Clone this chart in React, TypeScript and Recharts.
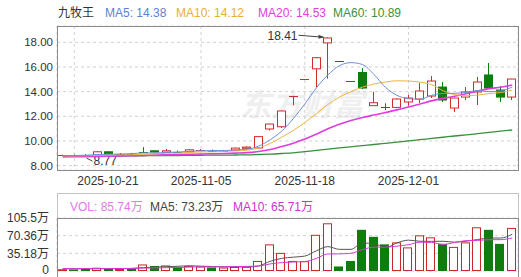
import React from 'react';
import { ComposedChart, Bar, Line, XAxis, YAxis, CartesianGrid } from 'recharts';

const dates = [
  '2025-10-20', '2025-10-21', '2025-10-22', '2025-10-23', '2025-10-24', '2025-10-27', '2025-10-28', '2025-10-29', '2025-10-30', '2025-10-31',
  '2025-11-03', '2025-11-04', '2025-11-05', '2025-11-06', '2025-11-07', '2025-11-10', '2025-11-11', '2025-11-12', '2025-11-13', '2025-11-14',
  '2025-11-17', '2025-11-18', '2025-11-19', '2025-11-20', '2025-11-21', '2025-11-24', '2025-11-25', '2025-11-26', '2025-11-27', '2025-11-28',
  '2025-12-01', '2025-12-02', '2025-12-03', '2025-12-04', '2025-12-05', '2025-12-08', '2025-12-09', '2025-12-10', '2025-12-11', '2025-12-12',
];
const tickDates = ['2025-10-21', '2025-11-05', '2025-11-18', '2025-12-01'];
const priceTicks = [8, 10, 12, 14, 16, 18];
const volTicks = [0, 35.18, 70.36, 105.5];

const openP = [8.80, 8.86, 8.85, 8.85, 9.12, 8.95, 8.98, 9.15, 9.20, 9.08, 9.20, 9.12, 9.22, 9.22, 9.20, 9.25, 9.40, 9.43, 10.97, 11.15,
  13.67, 15.04, 15.85, 17.95, 16.52, 14.87, 15.55, 12.86, 12.82, 12.72, 13.16, 13.40, 13.64, 14.37, 12.67, 13.56, 13.97, 15.35, 14.13, 13.56];
const closeP = [8.86, 8.84, 8.83, 9.12, 8.95, 8.98, 8.97, 9.12, 9.10, 9.20, 9.12, 9.28, 9.30, 9.20, 9.22, 9.42, 9.50, 10.35, 11.37, 12.43,
  13.67, 15.04, 16.75, 18.35, 16.52, 14.87, 14.29, 13.10, 12.78, 13.40, 13.48, 14.05, 14.86, 13.32, 13.48, 13.97, 14.78, 14.29, 13.56, 15.02];
const highP = [8.88, 8.90, 8.93, 9.16, 9.14, 9.02, 9.03, 9.50, 9.22, 9.35, 9.22, 9.32, 9.34, 9.30, 9.27, 9.45, 9.55, 10.38, 11.40, 12.45,
  13.67, 15.04, 16.80, 18.41, 16.52, 14.87, 15.90, 13.99, 13.05, 13.45, 13.73, 14.70, 15.27, 14.78, 13.50, 14.37, 15.19, 16.32, 14.45, 15.05];
const lowP = [8.78, 8.81, 8.77, 8.83, 8.92, 8.92, 8.94, 9.05, 9.08, 9.05, 9.10, 9.10, 9.18, 9.15, 9.16, 9.22, 9.35, 9.40, 10.85, 11.05,
  12.90, 15.04, 14.35, 15.05, 16.52, 14.87, 14.20, 12.84, 12.50, 12.65, 12.85, 13.08, 13.48, 13.16, 12.35, 13.32, 12.91, 14.21, 13.16, 13.32];

const ma5 = [8.80, 8.82, 8.84, 8.90, 8.92, 8.94, 8.97, 9.03, 9.02, 9.07, 9.10, 9.16, 9.20, 9.22, 9.22, 9.28, 9.33, 9.58, 10.10, 10.80,
  11.80, 13.00, 14.30, 15.35, 16.10, 16.35, 16.20, 15.40, 14.35, 13.70, 13.42, 13.38, 13.70, 13.85, 13.86, 13.95, 14.08, 14.00, 14.05, 14.38];
const ma10 = [8.78, 8.79, 8.80, 8.83, 8.85, 8.87, 8.89, 8.92, 8.95, 9.00, 9.02, 9.07, 9.11, 9.12, 9.15, 9.19, 9.25, 9.42, 9.80, 10.30,
  10.85, 11.50, 12.20, 12.95, 13.55, 14.00, 14.36, 14.62, 14.78, 14.88, 14.86, 14.76, 14.57, 14.07, 13.76, 13.67, 13.72, 13.84, 13.92, 14.12];
const ma20 = [8.70, 8.72, 8.73, 8.75, 8.77, 8.79, 8.81, 8.83, 8.85, 8.87, 8.89, 8.92, 8.94, 8.96, 8.98, 9.01, 9.05, 9.14, 9.30, 9.55,
  9.82, 10.15, 10.55, 10.98, 11.35, 11.65, 11.90, 12.10, 12.30, 12.52, 12.75, 13.00, 13.25, 13.45, 13.62, 13.82, 14.05, 14.24, 14.36, 14.53];
const ma60 = [8.74, 8.75, 8.76, 8.77, 8.78, 8.78, 8.79, 8.80, 8.81, 8.82, 8.82, 8.83, 8.84, 8.85, 8.85, 8.86, 8.87, 8.90, 8.93, 8.98,
  9.04, 9.13, 9.23, 9.33, 9.43, 9.52, 9.62, 9.71, 9.81, 9.91, 10.01, 10.10, 10.20, 10.30, 10.40, 10.49, 10.59, 10.69, 10.79, 10.89];

const volume = [3.5, 3.0, 5.0, 6.5, 5.5, 4.0, 5.0, 13.0, 10.0, 11.0, 8.0, 10.0, 9.0, 7.0, 7.0, 8.0, 8.5, 20.0, 53.0, 36.0,
  20.0, 19.5, 72.0, 95.0, 9.0, 20.0, 82.0, 68.0, 53.0, 57.0, 47.0, 71.0, 67.0, 54.0, 48.0, 57.0, 87.0, 82.0, 54.0, 85.74];
const volMa5 = [4.5, 4.2, 4.3, 4.4, 4.7, 4.8, 5.2, 6.8, 7.5, 8.6, 9.4, 10.4, 9.6, 9.0, 8.2, 8.2, 7.9, 10.1, 19.3, 25.1,
  27.5, 29.7, 40.1, 48.5, 43.1, 43.1, 55.6, 54.8, 46.4, 56.0, 61.4, 59.2, 59.0, 59.2, 57.4, 59.4, 62.6, 65.6, 65.6, 73.23];
const volMa10 = [5.0, 4.9, 4.9, 5.0, 5.0, 4.9, 5.0, 5.7, 6.2, 6.65, 7.1, 7.8, 8.2, 8.25, 8.4, 8.8, 9.15, 9.85, 14.15, 16.65,
  17.85, 18.8, 25.1, 33.9, 34.1, 35.3, 42.65, 47.45, 47.45, 49.55, 52.25, 57.4, 56.9, 52.8, 56.7, 60.4, 60.9, 62.3, 62.4, 65.71];

const PRICE_MIN = 7.643;
const PRICE_MAX = 19.322;
const VOL_MAX = 105.5;
const MAX_HIGH = Math.max(...highP);
const MIN_LOW = Math.min(...lowP);

const RED = '#d42a2a';
const GREEN = '#0e7c0e';
const FONT = 'Arial, "Liberation Sans", "Noto Sans CJK SC", sans-serif';

const data = dates.map((d, i) => ({
  date: d,
  open: openP[i],
  close: closeP[i],
  high: highP[i],
  low: lowP[i],
  ma5: ma5[i],
  ma10: ma10[i],
  ma20: ma20[i],
  ma60: ma60[i],
  vol: volume[i],
  volMa5: volMa5[i],
  volMa10: volMa10[i],
  up: i === 0 ? true : closeP[i] >= closeP[i - 1],
}));

function Candle(props: any) {
  const { x, y, width, height, payload } = props;
  if (!payload || !height) return <g />;
  const ppu = height / (payload.high - PRICE_MIN);
  const yOf = (p: number) => y + (payload.high - p) * ppu;
  const cx = Math.floor(x + width / 2) + 0.5;
  const isUp = payload.close > payload.open || (payload.close === payload.open && payload.up);
  const color = isUp ? RED : GREEN;
  const yo = yOf(payload.open);
  const yc = yOf(payload.close);
  const yh = yOf(payload.high);
  const yl = yOf(payload.low);
  const top = Math.min(yo, yc);
  const bot = Math.max(yo, yc);
  const parts: any[] = [];
  if (yl - yh > 0.5) {
    parts.push(<line key="w" x1={cx} x2={cx} y1={yh} y2={yl} stroke={color} strokeWidth={1} />);
  }
  if (bot - top < 1.2) {
    const yy = Math.round(yc) + 0.5;
    parts.push(<line key="b" x1={cx - 4.5} x2={cx + 4.5} y1={yy} y2={yy} stroke={color} strokeWidth={1} />);
  } else {
    parts.push(
      <rect key="b" x={cx - 4} y={top} width={8} height={bot - top}
        fill={payload.close > payload.open ? '#ffffff' : GREEN} stroke={color} strokeWidth={1} />
    );
  }
  if (payload.high === MAX_HIGH) {
    parts.push(<line key="al" x1={cx - 29} y1={yh - 2} x2={cx - 4} y2={yh} stroke="#444" strokeWidth={1} />);
    parts.push(<polygon key="ah" points={`${cx - 3},${yh} ${cx - 9},${yh - 2.5} ${cx - 9},${yh + 1.5}`} fill="#444" />);
    parts.push(
      <text key="at" x={cx - 30} y={yh + 2.5} textAnchor="end" fontSize={12} fill="#333" fontFamily={FONT}>
        {MAX_HIGH.toFixed(2)}
      </text>
    );
  }
  if (payload.low === MIN_LOW) {
    parts.push(<line key="ll" x1={cx + 1} y1={yl + 2} x2={cx + 7} y2={yl + 5} stroke="#444" strokeWidth={1} />);
    parts.push(
      <text key="lt" x={cx + 8} y={yl + 9} textAnchor="start" fontSize={12} fill="#333" fontFamily={FONT}>
        {MIN_LOW.toFixed(2)}
      </text>
    );
  }
  return <g>{parts}</g>;
}

function VolBar(props: any) {
  const { x, y, width, height, payload } = props;
  if (!payload || !height) return <g />;
  const left = Math.floor(x) + 0.5;
  if (payload.up) {
    return <rect x={left} y={y + 0.5} width={width - 1} height={Math.max(height - 1, 0)} fill="#ffffff" stroke="#c82828" strokeWidth={1} />;
  }
  return <rect x={Math.floor(x)} y={y} width={width} height={height} fill={GREEN} />;
}

const XTick = (props: any) => {
  const { x, payload, index } = props;
  const first = index === 0;
  return (
    <text x={first ? x + 3 : x} y={185} textAnchor={first ? 'start' : 'middle'} fontSize={12} fill="#333" fontFamily={FONT}>
      {payload.value}
    </text>
  );
};

const YTick = (props: any) => {
  const { y, payload } = props;
  return (
    <text x={53} y={y} dy="0.35em" textAnchor="end" fontSize={11.5} fill="#333" fontFamily={FONT}>
      {Number(payload.value).toFixed(2)}
    </text>
  );
};

const VolYTick = (props: any) => {
  const { y, payload } = props;
  const v = Number(payload.value);
  return (
    <text x={49} y={v === 0 ? y - 1 : y} dy="0.35em" textAnchor="end" fontSize={12} fill="#333" fontFamily={FONT}>
      {v === 0 ? '0' : `${v}万`}
    </text>
  );
};

const headerStyle = (left: number, top: number, color: string): React.CSSProperties => ({
  position: 'absolute', left, top, fontSize: 12, lineHeight: '14px', color, whiteSpace: 'nowrap', fontFamily: FONT,
});

export default function App() {
  return (
    <div style={{ position: 'absolute', left: 0, top: 0, width: 521, height: 277, background: '#fff', overflow: 'hidden', fontFamily: FONT }}>
      <div style={{ position: 'absolute', left: 240, top: 80, fontSize: 31, fontWeight: 'bold', fontStyle: 'italic', color: '#efefef', whiteSpace: 'nowrap', fontFamily: FONT }}>
        东方财富
      </div>
      <div style={{ position: 'absolute', left: 0, top: 0 }}>
        <ComposedChart width={521} height={190} data={data} margin={{ top: 26, right: 3, bottom: 0, left: 0 }}>
          <CartesianGrid stroke="#d2d2d2" strokeDasharray="3 3" />
          <XAxis dataKey="date" ticks={tickDates} interval={0} height={20} axisLine={false} tickLine={false} tick={XTick} />
          <YAxis type="number" domain={[PRICE_MIN, PRICE_MAX]} ticks={priceTicks} interval={0} width={57} axisLine={false} tickLine={false} tick={YTick} />
          <Bar dataKey={(d: any) => [PRICE_MIN, d.high]} barSize={9} shape={Candle} isAnimationActive={false} />
          <Line dataKey="ma60" type="monotone" stroke="#3a8f3a" strokeWidth={1.3} dot={false} isAnimationActive={false} />
          <Line dataKey="ma20" type="monotone" stroke="#e03ce0" strokeWidth={1.6} dot={false} isAnimationActive={false} />
          <Line dataKey="ma10" type="monotone" stroke="#eeb440" strokeWidth={1} dot={false} isAnimationActive={false} />
          <Line dataKey="ma5" type="monotone" stroke="#6a8fd8" strokeWidth={1} dot={false} isAnimationActive={false} />
        </ComposedChart>
      </div>
      <div style={{ position: 'absolute', left: 0, top: 193 }}>
        <ComposedChart width={521} height={84} data={data} margin={{ top: 25, right: 3, bottom: 5, left: 0 }}>
          <CartesianGrid stroke="#d2d2d2" strokeDasharray="3 3" />
          <XAxis dataKey="date" ticks={tickDates} interval={0} height={1} axisLine={false} tickLine={false} tick={false} />
          <YAxis type="number" domain={[0, VOL_MAX]} ticks={volTicks} interval={0} width={57} axisLine={false} tickLine={false} tick={VolYTick} />
          <Bar dataKey="vol" barSize={9} shape={VolBar} isAnimationActive={false} />
          <Line dataKey="volMa5" type="monotone" stroke="#555555" strokeWidth={1} dot={false} isAnimationActive={false} />
          <Line dataKey="volMa10" type="monotone" stroke="#d43ad4" strokeWidth={1} dot={false} isAnimationActive={false} />
        </ComposedChart>
      </div>
      <svg width={521} height={277} style={{ position: 'absolute', left: 0, top: 0, pointerEvents: 'none' }}>
        <rect x={57.5} y={26.5} width={461} height={144} fill="none" stroke="#8c8c8c" />
        <rect x={57.5} y={193.5} width={461} height={100} fill="none" stroke="#c4c4c4" />
        <line x1={57} x2={519} y1={218.5} y2={218.5} stroke="#8c8c8c" />
        <line x1={57.5} x2={57.5} y1={218} y2={277} stroke="#8c8c8c" />
        <line x1={518.5} x2={518.5} y1={218} y2={277} stroke="#8c8c8c" />
      </svg>
      <div style={headerStyle(58, 6, '#333')}>九牧王</div>
      <div style={headerStyle(105, 6, '#5b84d0')}>MA5: 14.38</div>
      <div style={headerStyle(176, 6, '#e8b030')}>MA10: 14.12</div>
      <div style={headerStyle(258, 6, '#e040e0')}>MA20: 14.53</div>
      <div style={headerStyle(333, 6, '#3a913a')}>MA60: 10.89</div>
      <div style={headerStyle(70, 200, '#e27ae8')}>VOL: 85.74万</div>
      <div style={headerStyle(150, 200, '#444')}>MA5: 73.23万</div>
      <div style={headerStyle(233, 200, '#cc33cc')}>MA10: 65.71万</div>
    </div>
  );
}
